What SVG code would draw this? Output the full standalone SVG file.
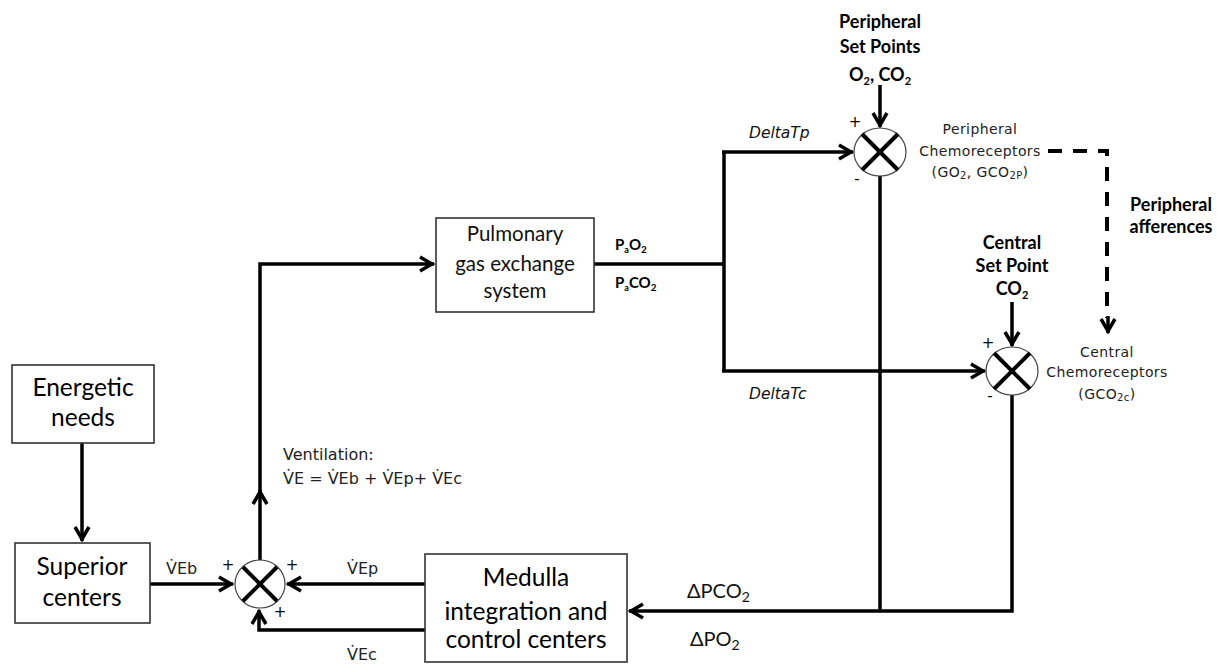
<svg xmlns="http://www.w3.org/2000/svg" width="1217" height="665" viewBox="0 0 1217 665">
<style>
.box{fill:#fff;stroke:#333;stroke-width:1.6}
.ln{fill:none;stroke:#000;stroke-width:3.5}
.dash{fill:none;stroke:#000;stroke-width:4;stroke-dasharray:14 11}
.cir{fill:#fff;stroke:#444;stroke-width:1.2}
.x{stroke:#000;stroke-width:4}
.big{font-family:Lato,"Liberation Sans",sans-serif;font-size:24.5px;fill:#000;text-anchor:middle}
.med{font-family:Lato,"Liberation Sans",sans-serif;font-size:20.5px;fill:#111;text-anchor:middle}
.bold{font-family:Lato,"Liberation Sans",sans-serif;font-size:18px;font-weight:bold;fill:#000;text-anchor:middle}
.pa{font-family:Lato,"Liberation Sans",sans-serif;font-size:15px;font-weight:bold;fill:#000}
.sm{font-family:"DejaVu Sans",sans-serif;font-size:14px;letter-spacing:0.4px;fill:#222;text-anchor:middle}
.lbl{font-family:"DejaVu Sans",sans-serif;font-size:16px;fill:#222}
.it{font-family:"DejaVu Sans",sans-serif;font-size:15.5px;font-style:italic;fill:#111}
.dl{font-family:Lato,"Liberation Sans",sans-serif;font-size:20px;fill:#111}
.sg{font-family:"DejaVu Sans",sans-serif;font-size:15px;fill:#000;text-anchor:middle}
</style>
<defs>
<marker id="ah" viewBox="0 0 18 16" refX="15" refY="8" markerWidth="18" markerHeight="16" markerUnits="userSpaceOnUse" orient="auto" overflow="visible">
<path d="M1,1 L13,8 L1,15" fill="none" stroke="#000" stroke-width="3.5"/>
</marker>
</defs>
<rect width="1217" height="665" fill="#fff"/>

<g id="connectors">
<path class="ln" d="M82,443 V541" marker-end="url(#ah)"/>
<path class="ln" d="M150,584 H233" marker-end="url(#ah)"/>
<path class="ln" d="M425,584 H287" marker-end="url(#ah)"/>
<path class="ln" d="M425,630 H259 V610" marker-end="url(#ah)"/>
<path class="ln" d="M260,560 V490" marker-end="url(#ah)"/>
<path class="ln" d="M260,492 V264 H434" marker-end="url(#ah)"/>
<path class="ln" d="M594,264 H724"/>
<path class="ln" d="M724,152 V371"/>
<path class="ln" d="M722,152 H853" marker-end="url(#ah)"/>
<path class="ln" d="M722,371 H985" marker-end="url(#ah)"/>
<path class="ln" d="M880,85 V127" marker-end="url(#ah)"/>
<path class="ln" d="M1012,302 V346" marker-end="url(#ah)"/>
<path class="ln" d="M880,176 V611"/>
<path class="ln" d="M1012,395 V611 H629" marker-end="url(#ah)"/>
<path class="dash" d="M1048,151 H1107 V318"/>
<path class="ln" d="M1108,316 V333" marker-end="url(#ah)"/>
</g>

<g id="energetic">
<rect class="box" x="12" y="365" width="142" height="78"/>
<text class="big" x="83" y="396">Energetic</text>
<text class="big" x="83" y="426">needs</text>
</g>

<g id="superior">
<rect class="box" x="15" y="543" width="135" height="80"/>
<text class="big" x="82" y="575">Superior</text>
<text class="big" x="82" y="606">centers</text>
</g>

<g id="medulla">
<rect class="box" x="425" y="554" width="202" height="108"/>
<text class="big" x="526" y="586">Medulla</text>
<text class="big" x="526" y="620">integration and</text>
<text class="big" x="526" y="648">control centers</text>
</g>

<g id="pulmonary">
<rect class="box" x="436" y="218" width="158" height="94"/>
<text class="med" x="515" y="241">Pulmonary</text>
<text class="med" x="515" y="271">gas exchange</text>
<text class="med" x="515" y="298">system</text>
</g>

<g id="sum-main">
<ellipse class="cir" cx="260" cy="584" rx="25" ry="24"/>
<line class="x" x1="243" y1="567" x2="277" y2="601"/>
<line class="x" x1="277" y1="567" x2="243" y2="601"/>
<text class="sg" x="228" y="570">+</text>
<text class="sg" x="292" y="570">+</text>
<text class="sg" x="280" y="617">+</text>
</g>

<g id="sum-peripheral">
<ellipse class="cir" cx="880" cy="152" rx="26" ry="24"/>
<line class="x" x1="862" y1="134" x2="898" y2="170"/>
<line class="x" x1="898" y1="134" x2="862" y2="170"/>
<text class="sg" x="855" y="127">+</text>
<text class="sg" x="857" y="184">-</text>
</g>

<g id="sum-central">
<ellipse class="cir" cx="1012" cy="371" rx="26" ry="24"/>
<line class="x" x1="994" y1="353" x2="1030" y2="389"/>
<line class="x" x1="1030" y1="353" x2="994" y2="389"/>
<text class="sg" x="988" y="348">+</text>
<text class="sg" x="990" y="401">-</text>
</g>

<g id="peripheral-setpoints">
<text class="bold" x="880" y="28">Peripheral</text>
<text class="bold" x="880" y="53">Set Points</text>
<text class="bold" x="880" y="81">O<tspan font-size="11" dy="4">2</tspan><tspan dy="-4">, CO</tspan><tspan font-size="11" dy="4">2</tspan></text>
</g>

<g id="central-setpoint">
<text class="bold" x="1012" y="249">Central</text>
<text class="bold" x="1012" y="272">Set Point</text>
<text class="bold" x="1012" y="295">CO<tspan font-size="11" dy="4">2</tspan></text>
</g>

<g id="peripheral-chemo">
<text class="sm" x="980" y="134">Peripheral</text>
<text class="sm" x="980" y="156">Chemoreceptors</text>
<text class="sm" x="980" y="177">(GO<tspan font-size="10" dy="2">2</tspan><tspan dy="-2">, GCO</tspan><tspan font-size="10" dy="2">2P</tspan><tspan dy="-2">)</tspan></text>
</g>

<g id="central-chemo">
<text class="sm" x="1107" y="357">Central</text>
<text class="sm" x="1107" y="377">Chemoreceptors</text>
<text class="sm" x="1107" y="399">(GCO<tspan font-size="10" dy="2">2c</tspan><tspan dy="-2">)</tspan></text>
</g>

<g id="afferences">
<text class="bold" x="1171" y="211" font-size="16.5">Peripheral</text>
<text class="bold" x="1171" y="233" font-size="16.5">afferences</text>
</g>

<g id="labels">
<text class="pa" x="615" y="250">P<tspan font-size="9" dy="3">a</tspan><tspan dy="-3">O</tspan><tspan font-size="10" dy="3">2</tspan></text>
<text class="pa" x="615" y="288">P<tspan font-size="9" dy="3">a</tspan><tspan dy="-3">CO</tspan><tspan font-size="10" dy="3">2</tspan></text>
<text class="it" x="749" y="138">DeltaTp</text>
<text class="it" x="749" y="399">DeltaTc</text>
<text class="lbl" x="283" y="460">Ventilation:</text>
<text class="lbl" x="283" y="484">V̇E = V̇Eb  + V̇Ep+ V̇Ec</text>
<text class="lbl" x="166" y="574">V̇Eb</text>
<text class="lbl" x="347" y="574">V̇Ep</text>
<text class="lbl" x="347" y="660">V̇Ec</text>
<text class="dl" x="687" y="598">ΔPCO<tspan font-size="14" dy="4">2</tspan></text>
<text class="dl" x="690" y="646">ΔPO<tspan font-size="14" dy="4">2</tspan></text>
</g>
</svg>
